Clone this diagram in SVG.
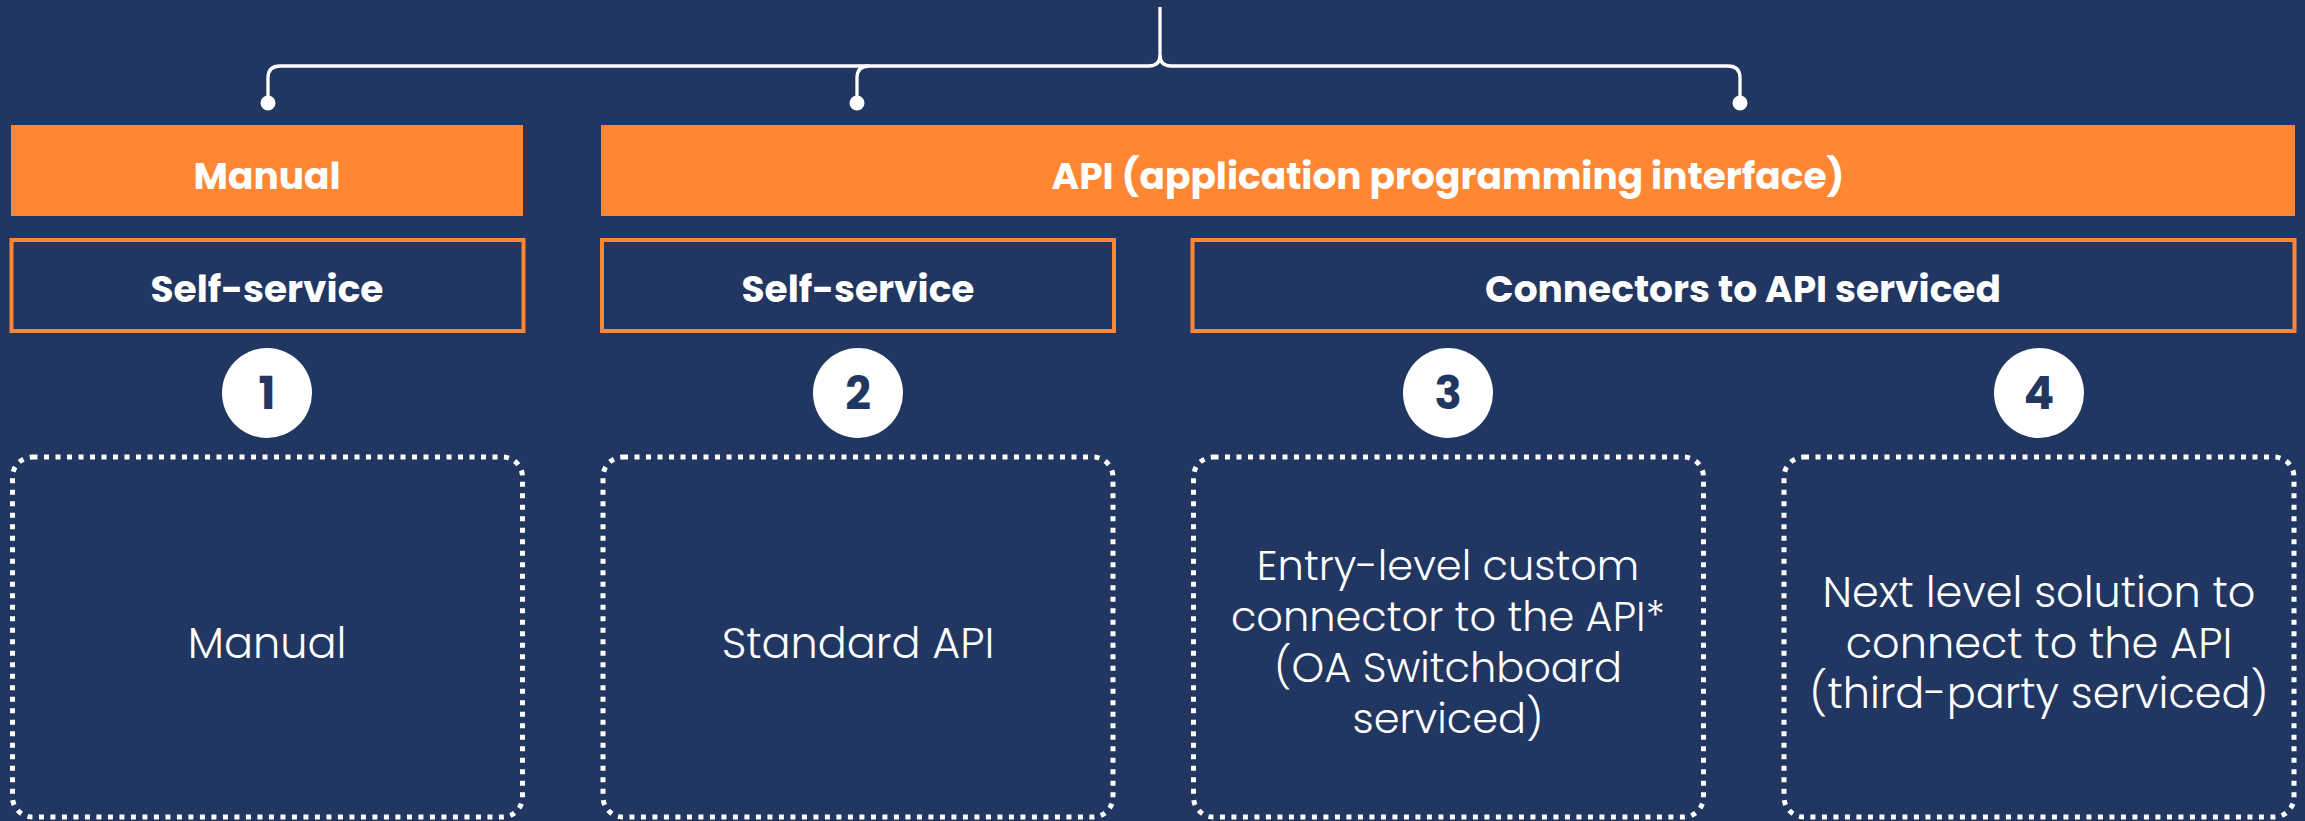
<svg xmlns="http://www.w3.org/2000/svg" width="2305" height="821" viewBox="0 0 2305 821">
<style>
.bar{fill:#FF8733}
.sub{fill:none;stroke:#FF8733;stroke-width:4}
.dot{fill:none;stroke:#FFFFFF;stroke-width:5;stroke-dasharray:5 6.5}
.hd{font-family:Poppins,Inter,"Open Sans",sans-serif;font-weight:700;font-size:37.5px;fill:#FFFFFF;text-anchor:middle}
.num{font-family:Poppins,Inter,"Open Sans",sans-serif;font-weight:700;font-size:45px;fill:#213762;text-anchor:middle}
.bd{font-family:Poppins,Inter,"Open Sans",sans-serif;font-weight:300;font-size:43px;fill:#FFFFFF;text-anchor:middle}
.sm{font-size:41.5px}
.ln{fill:none;stroke:#FFFFFF;stroke-width:3.3}
</style>
<rect width="2305" height="821" fill="#213762"/>
<g id="connectors">
<path class="ln" d="M1160 7 V55 Q1160 66 1149 66 H280 Q268 66 268 78 V103"/>
<path class="ln" d="M1160 55 Q1160 66 1171 66 H1728 Q1740 66 1740 78 V103"/>
<path class="ln" d="M869 66 Q857 66 857 78 V103"/>
<circle cx="268" cy="103" r="7.5" fill="#FFFFFF"/>
<circle cx="857" cy="103" r="7.5" fill="#FFFFFF"/>
<circle cx="1740" cy="103" r="7.5" fill="#FFFFFF"/>
</g>
<g id="manual-bar"><rect class="bar" x="11" y="125" width="512" height="91"/><text class="hd" x="267" y="189">Manual</text></g>
<g id="api-bar"><rect class="bar" x="601" y="125" width="1694" height="91"/><text class="hd" x="1448" y="189">API (application programming interface)</text></g>
<g id="self-service-1"><rect class="sub" x="11.5" y="240" width="512" height="91"/><text class="hd" x="267" y="302">Self-service</text></g>
<g id="self-service-2"><rect class="sub" x="602" y="240" width="512" height="91"/><text class="hd" x="858" y="302">Self-service</text></g>
<g id="connectors-header"><rect class="sub" x="1192.5" y="240" width="1102" height="91"/><text class="hd" x="1743" y="302">Connectors to API serviced</text></g>
<g id="num-1"><circle cx="267" cy="393" r="45" fill="#FFFFFF"/><text class="num" x="267" y="409">1</text></g>
<g id="num-2"><circle cx="858" cy="393" r="45" fill="#FFFFFF"/><text class="num" x="858" y="409">2</text></g>
<g id="num-3"><circle cx="1448" cy="393" r="45" fill="#FFFFFF"/><text class="num" x="1448" y="409">3</text></g>
<g id="num-4"><circle cx="2039" cy="393" r="45" fill="#FFFFFF"/><text class="num" x="2039" y="409">4</text></g>
<g id="box-1"><rect class="dot" x="12.5" y="457" width="510" height="360" rx="20"/><text class="bd" x="267" y="658">Manual</text></g>
<g id="box-2"><rect class="dot" x="603" y="457" width="510" height="360" rx="20"/><text class="bd" x="858" y="658">Standard API</text></g>
<g id="box-3"><rect class="dot" x="1193.5" y="457" width="510" height="360" rx="20"/><text class="bd sm" x="1448"><tspan x="1448" y="580">Entry-level custom</tspan><tspan x="1448" y="631">connector to the API*</tspan><tspan x="1448" y="682">(OA Switchboard</tspan><tspan x="1448" y="733">serviced)</tspan></text></g>
<g id="box-4"><rect class="dot" x="1784" y="457" width="510" height="360" rx="20"/><text class="bd" x="2039"><tspan x="2039" y="607">Next level solution to</tspan><tspan x="2039" y="658">connect to the API</tspan><tspan x="2039" y="708">(third-party serviced)</tspan></text></g>
</svg>
